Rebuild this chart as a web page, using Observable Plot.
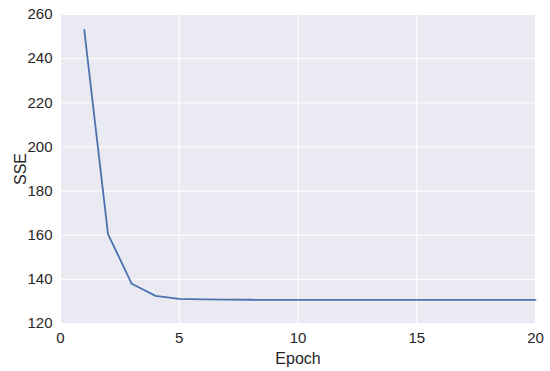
<!DOCTYPE html>
<html>
<head>
<meta charset="utf-8">
<script src="https://cdn.jsdelivr.net/npm/d3@7"></script>
<script src="https://cdn.jsdelivr.net/npm/@observablehq/plot@0.6"></script>
<style>
  html, body { margin: 0; padding: 0; background: #fff; }
  svg { display: block; }
</style>
</head>
<body>
<div id="chart"></div>
<script>
const epochs = [1,2,3,4,5,6,7,8,9,10,11,12,13,14,15,16,17,18,19,20];
const sse = [253.0,160.5,138.0,132.5,131.2,130.9,130.8,130.75,130.72,130.7,130.7,130.7,130.7,130.7,130.7,130.7,130.7,130.7,130.7,130.7];
const xTicks = [0,5,10,15,20];
const yTicks = [120,140,160,180,200,220,240,260];

const data = epochs.map((e,i) => ({epoch: e, sse: sse[i]}));

const chart = Plot.plot({
  width: 550,
  height: 371,
  marginLeft: 60,
  marginRight: 15,
  marginTop: 14,
  marginBottom: 48,
  style: {fontFamily: "'Liberation Sans', Arial, sans-serif", fontSize: "15px", color: "#262626", background: "#fff"},
  x: {domain: [0, 20]},
  y: {domain: [120, 260]},
  marks: [
    Plot.frame({fill: "#EAEAF2", stroke: null}),
    Plot.gridX(xTicks, {stroke: "#fff", strokeOpacity: 1, strokeWidth: 1}),
    Plot.gridY(yTicks, {stroke: "#fff", strokeOpacity: 1, strokeWidth: 1}),
    Plot.axisX(xTicks, {tickSize: 0, tickPadding: 9, fontSize: 15, fill: "#262626", label: "Epoch", labelAnchor: "center", labelArrow: "none", labelOffset: 40}),
    Plot.axisY(yTicks, {tickSize: 0, tickPadding: 8, fontSize: 15, fill: "#262626", label: "SSE", labelAnchor: "center", labelArrow: "none", labelOffset: 46}),
    Plot.line(data, {x: "epoch", y: "sse", stroke: "#4C72B0", strokeWidth: 1.8})
  ]
});
chart.querySelectorAll("[aria-label='x-axis label'] text, [aria-label='y-axis label'] text").forEach(t => t.setAttribute("font-size", "16"));
document.getElementById("chart").appendChild(chart);
</script>
</body>
</html>
